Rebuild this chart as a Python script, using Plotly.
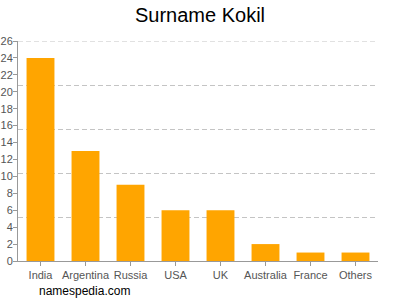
import plotly.graph_objects as go

categories = ["India", "Argentina", "Russia", "USA", "UK", "Australia", "France", "Others"]
values = [24, 13, 9, 6, 6, 2, 1, 1]
y_ticks = list(range(0, 27, 2))

FONT = "Liberation Sans, Arial, sans-serif"
Y_MAX = 26
grid_vals = [Y_MAX * i / 5 for i in range(1, 5)]
GRID_STYLE = dict(color="#c4c4c4", width=1, dash="5px,3px")

fig = go.Figure()
fig.add_trace(go.Bar(x=categories, y=values, marker=dict(color="#FFA500", line=dict(width=0)),
                     hoverinfo="x+y"))
# invisible trace to drive the dashed grid axis
fig.add_trace(go.Scatter(x=categories, y=values, yaxis="y2", mode="markers",
                         marker=dict(opacity=0), hoverinfo="skip", showlegend=False))

fig.update_layout(
    width=400, height=300,
    margin=dict(l=18, r=22, t=41, b=39),
    paper_bgcolor="white", plot_bgcolor="white",
    showlegend=False,
    bargap=0.38,
    title=dict(text="Surname Kokil", x=0.5, xanchor="center", y=0.95, yanchor="middle",
               font=dict(family=FONT, size=20, color="#000")),
    font=dict(family=FONT),
    xaxis=dict(showgrid=False, showline=True, linecolor="#999", linewidth=1,
               ticks="outside", ticklen=4, tickcolor="#999", automargin=False,
               tickfont=dict(size=11, color="#555")),
    yaxis=dict(range=[0, Y_MAX], tickvals=y_ticks, showgrid=False, zeroline=False,
               ticks="outside", ticklen=4, tickcolor="#999", automargin=False,
               ticklabelstandoff=-2,
               tickfont=dict(size=11, color="#555"), showline=True, linecolor="#999",
               linewidth=1),
    yaxis2=dict(range=[0, Y_MAX], overlaying="y", side="right", tickvals=grid_vals,
                showgrid=True, gridcolor=GRID_STYLE["color"], griddash=GRID_STYLE["dash"],
                gridwidth=1,
                showticklabels=False, zeroline=False, showline=False, automargin=False),
    shapes=[dict(type="line", xref="paper", yref="y", x0=0, x1=1, y0=Y_MAX, y1=Y_MAX,
                 line=GRID_STYLE, layer="below")],
    annotations=[dict(text="namespedia.com", xref="paper", yref="paper", x=0.052, y=-0.136,
                      xanchor="left", yanchor="middle", showarrow=False,
                      font=dict(family=FONT, size=12, color="#000"))],
)
fig.write_html("out.html")
